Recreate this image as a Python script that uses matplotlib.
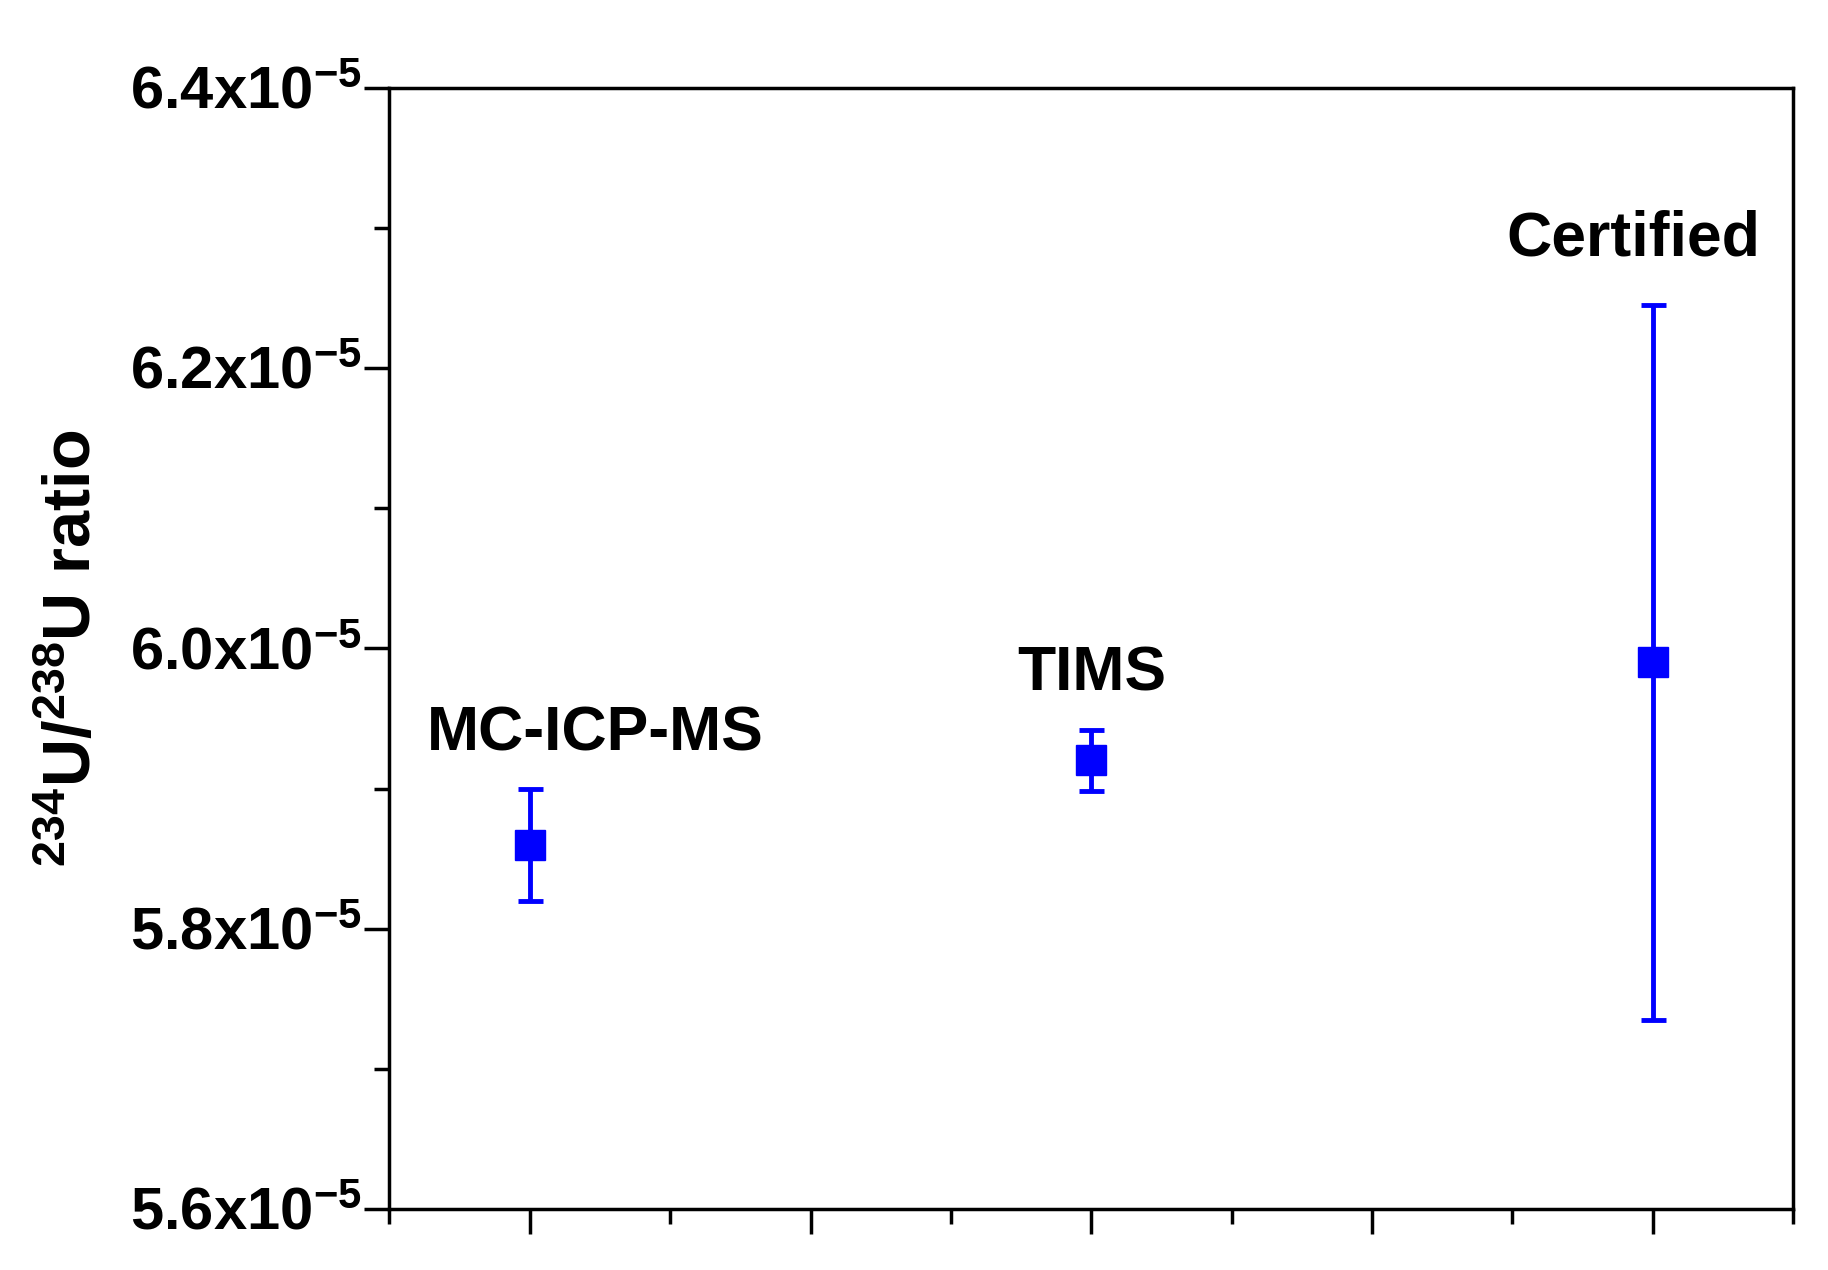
import matplotlib
matplotlib.use("Agg")
import matplotlib.pyplot as plt
from matplotlib.ticker import MultipleLocator

plt.rcParams['font.family'] = ['Liberation Sans', 'DejaVu Sans']
plt.rcParams['font.weight'] = 'bold'
plt.rcParams['mathtext.fontset'] = 'custom'
plt.rcParams['mathtext.rm'] = 'Liberation Sans:bold'
plt.rcParams['mathtext.bf'] = 'Liberation Sans:bold'
plt.rcParams['mathtext.default'] = 'rm'

methods = ['MC-ICP-MS', 'TIMS', 'Certified']
xpos = [1, 3, 5]
values = [5.86e-5, 5.92e-5, 5.99e-5]
errors = [0.04e-5, 0.022e-5, 0.255e-5]
label_x = [1.235, 3.0, 4.93]
label_y = [5.939e-5, 5.982e-5, 6.292e-5]
yticks = [5.6e-5, 5.8e-5, 6.0e-5, 6.2e-5, 6.4e-5]
yticklabels = ['5.6x10$^{-5}$', '5.8x10$^{-5}$', '6.0x10$^{-5}$', '6.2x10$^{-5}$', '6.4x10$^{-5}$']

fig = plt.figure(figsize=(18.28, 12.7), dpi=100)
ax = fig.add_axes([0.213, 0.048, 0.768, 0.883])
ax.errorbar(xpos, values, yerr=errors, fmt='s', color='#0000ff', ms=21,
            elinewidth=3.5, capsize=9, capthick=3.5)
for t, x, y in zip(methods, label_x, label_y):
    ax.text(x, y, t, ha='center', va='center', fontsize=45, fontweight='bold')
ax.set_xlim(0.5, 5.5)
ax.set_ylim(5.6e-5, 6.4e-5)
ax.xaxis.set_major_locator(MultipleLocator(1))
ax.xaxis.set_minor_locator(MultipleLocator(0.5))
ax.set_xticklabels([])
ax.set_yticks(yticks)
ax.set_yticklabels(yticklabels, fontsize=43, fontweight='bold')
ax.yaxis.set_minor_locator(MultipleLocator(0.1e-5))
ax.tick_params(which='major', direction='out', length=18, width=2.5)
ax.tick_params(which='minor', direction='out', length=11, width=2.5)
ax.tick_params(axis='y', pad=2)
for s in ax.spines.values():
    s.set_linewidth(2.5)
ax.set_ylabel('$^{234}$U/$^{238}$U ratio', fontsize=48, fontweight='bold', labelpad=18)
fig.savefig('out.png', dpi=100)
